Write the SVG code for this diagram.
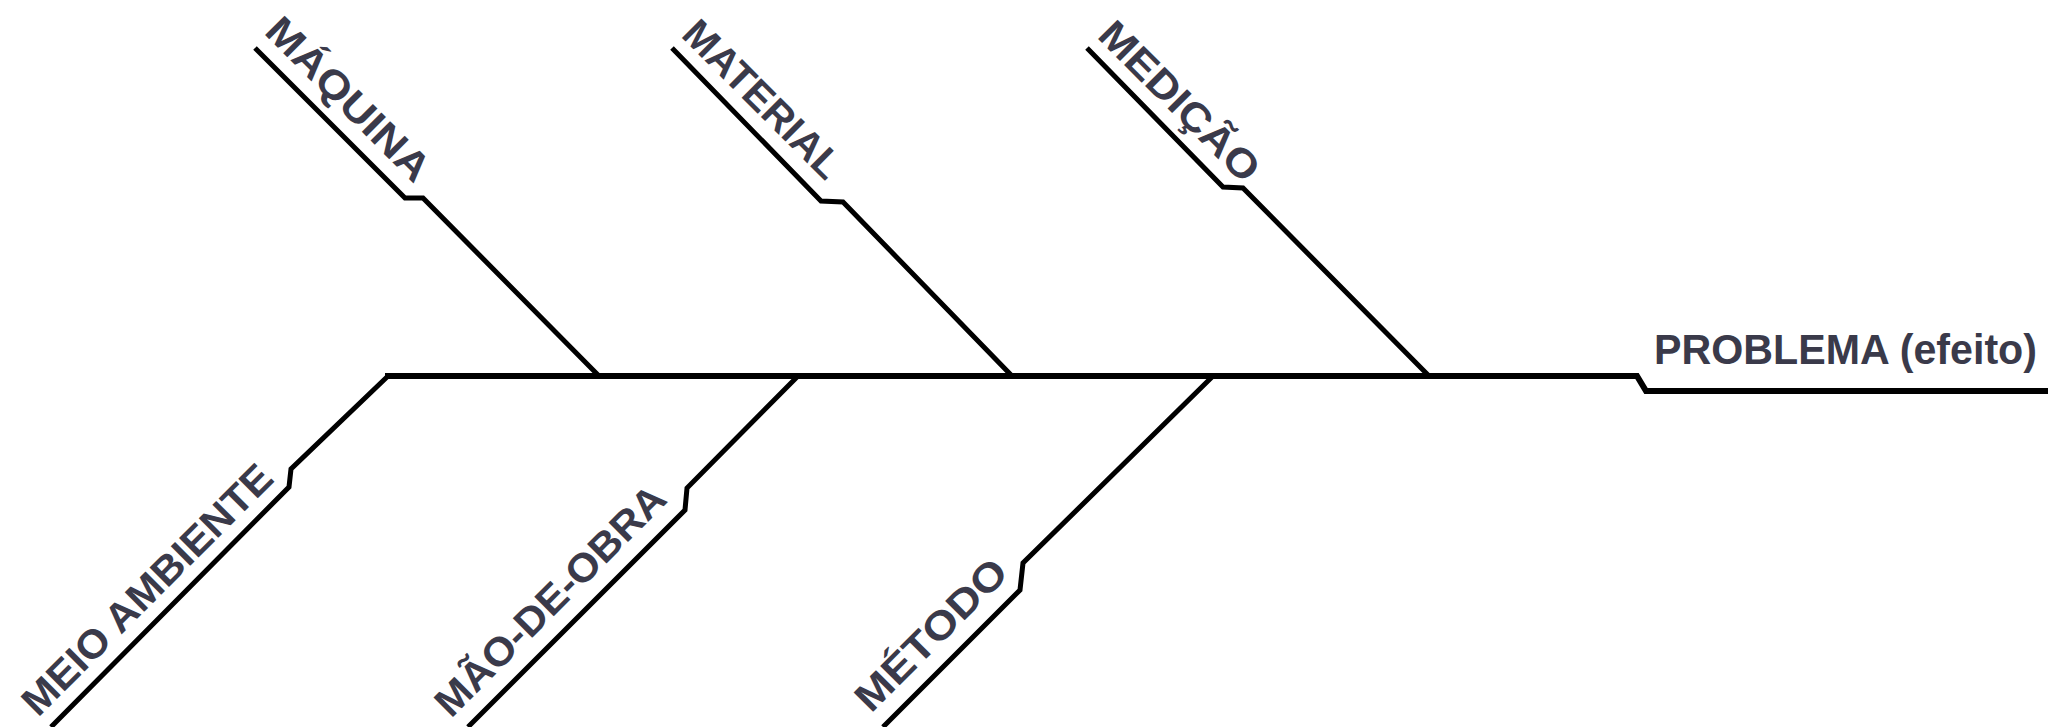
<svg xmlns="http://www.w3.org/2000/svg" width="2051" height="727" viewBox="0 0 2051 727">
<style>
.ln{fill:none;stroke:#000;stroke-width:5;stroke-linejoin:miter;stroke-linecap:butt}
.sp{stroke-width:6}
.lb{font-family:"Liberation Sans",Arial,sans-serif;font-weight:bold;font-size:40px;fill:#3a3a4a}
.pb{font-size:42px}
</style>
<rect width="2051" height="727" fill="#fff"/>
<g id="connectors">
<path class="ln sp" d="M385,376 L1637,376 L1646,391 L2048,391"/>
<path class="ln" d="M255,48 L405,198 L423,198 L599,376"/>
<path class="ln" d="M672,48 L821,201 L843,202 L1012,376"/>
<path class="ln" d="M1087,48 L1223,187 L1243,188 L1429,376"/>
<path class="ln" d="M387,377 L291,469 L289,487 L51,727"/>
<path class="ln" d="M797,377 L687,488 L685,510 L468,727"/>
<path class="ln" d="M1212,377 L1023,563 L1020,590 L883,727"/>
</g>
<g id="problema"><text class="lb pb" x="1654" y="364" textLength="383" lengthAdjust="spacingAndGlyphs">PROBLEMA (efeito)</text></g>
<g id="maquina"><text class="lb" transform="translate(263,33) rotate(45)" textLength="214" lengthAdjust="spacingAndGlyphs">MÁQUINA</text></g>
<g id="material"><text class="lb" transform="translate(680,36) rotate(45)" textLength="206" lengthAdjust="spacingAndGlyphs">MATERIAL</text></g>
<g id="medicao"><text class="lb" transform="translate(1096,37) rotate(45)" textLength="209" lengthAdjust="spacingAndGlyphs">MEDIÇÃO</text></g>
<g id="meio-ambiente"><text class="lb" transform="translate(38,718) rotate(-45)" textLength="336" lengthAdjust="spacingAndGlyphs">MEIO AMBIENTE</text></g>
<g id="mao-de-obra"><text class="lb" transform="translate(451,719) rotate(-45)" textLength="308" lengthAdjust="spacingAndGlyphs">MÃO-DE-OBRA</text></g>
<g id="metodo"><text class="lb" transform="translate(871,714) rotate(-45)" textLength="197" lengthAdjust="spacingAndGlyphs">MÉTODO</text></g>
</svg>
